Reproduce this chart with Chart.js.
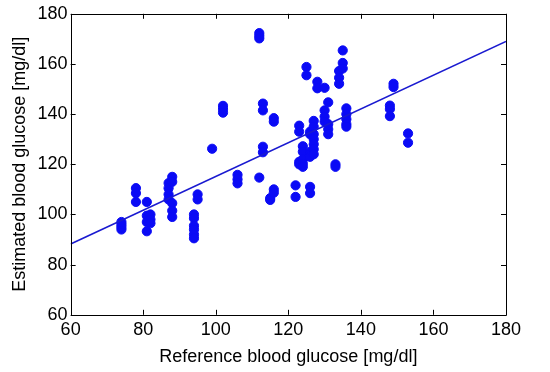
<!DOCTYPE html>
<html>
<head>
<meta charset="utf-8">
<script src="https://cdn.jsdelivr.net/npm/chart.js@4"></script>
<style>
  html, body { margin: 0; padding: 0; background: #fff; }
  #wrap { width: 550px; height: 372px; }
</style>
</head>
<body>
<div id="wrap"><canvas id="scatterChart" width="550" height="372"></canvas></div>
<script>
// reference glucose (x) and estimated glucose (y)
const refGlucose = [
  74, 74, 74, 74,
  78, 78, 78,
  81, 81, 81, 81,
  82, 82, 82,
  87, 87, 87, 87,
  88, 88, 88, 88, 88,
  94, 94, 94, 94, 94, 94,
  95, 95,
  99,
  102, 102, 102,
  106, 106, 106,
  112, 112, 112, 112,
  113, 113, 113, 113,
  115, 115,
  116, 116, 116, 116,
  122, 122,
  123, 123, 123, 123,
  124, 124, 124, 124, 124,
  125, 125,
  126, 126, 126, 126, 126, 126, 126,
  127, 127, 127, 127, 127, 127, 127,
  128, 128,
  130, 130, 130, 130,
  131, 131, 131, 131,
  133, 133,
  134, 134, 134,
  135, 135, 135,
  136, 136, 136, 136, 136,
  148, 148, 148,
  149, 149,
  153, 153
];
const estGlucose = [
  94, 95, 96, 97,
  110.5, 108.5, 105,
  105, 99.5, 97, 93.3,
  100, 98, 96.5,
  112.5, 110.5, 108, 106,
  115, 113, 104.5, 101.5, 99,
  100, 98.5, 95.5, 94, 92, 90.5,
  108, 106,
  126.2,
  143.3, 142, 140.6,
  115.8, 114, 112.4,
  172.3, 171.2, 170.2, 114.7,
  144.2, 141.5, 127, 124.8,
  106.5, 105.8,
  138.4, 137, 110, 108.7,
  111.6, 107,
  135.4, 133, 121, 120,
  127.2, 125, 122, 120.3, 119,
  158.8, 155.5,
  133, 132, 125, 124, 123, 111, 108.5,
  137.3, 135, 132, 130, 128, 126, 124,
  152.9, 150.3,
  150.5, 141.5, 139, 137,
  144.7, 136, 134, 132,
  120, 119,
  157.2, 154.5, 152.1,
  165.4, 160.4, 158.2,
  142.3, 140, 138, 136, 135,
  143.4, 142, 139.2,
  152.1, 150.8,
  132.3, 128.6
];
// regression line end points
const fitX = [60, 180];
const fitY = [88.2, 169];

const xTicks = [60, 80, 100, 120, 140, 160, 180];
const yTicks = [60, 80, 100, 120, 140, 160, 180];

const pts = refGlucose.map((x, i) => ({ x: x, y: estGlucose[i] }));
const fit = fitX.map((x, i) => ({ x: x, y: fitY[i] }));

// MATLAB-like box with inward ticks on all four sides
const boxTicks = {
  id: 'boxTicks',
  afterDraw(chart) {
    const { ctx, chartArea: a, scales } = chart;
    const len = 5;
    ctx.save();
    ctx.strokeStyle = '#000';
    ctx.lineWidth = 1;
    ctx.beginPath();
    ctx.rect(Math.round(a.left) + 0.5, Math.round(a.top) + 0.5,
             Math.round(a.right - a.left), Math.round(a.bottom - a.top));
    xTicks.forEach(v => {
      const px = Math.round(scales.x.getPixelForValue(v)) + 0.5;
      ctx.moveTo(px, a.bottom); ctx.lineTo(px, a.bottom - len);
      ctx.moveTo(px, a.top); ctx.lineTo(px, a.top + len);
    });
    yTicks.forEach(v => {
      const py = Math.round(scales.y.getPixelForValue(v)) + 0.5;
      ctx.moveTo(a.left, py); ctx.lineTo(a.left + len, py);
      ctx.moveTo(a.right, py); ctx.lineTo(a.right - len, py);
    });
    ctx.stroke();
    ctx.restore();
  }
};

const ctx = document.getElementById('scatterChart').getContext('2d');
new Chart(ctx, {
  type: 'scatter',
  data: {
    datasets: [
      {
        label: 'measurements',
        data: pts,
        backgroundColor: '#0a0af5',
        borderColor: '#0a0af5',
        pointRadius: 4.6,
        pointHoverRadius: 4.6,
        order: 2
      },
      {
        type: 'line',
        label: 'fit',
        data: fit,
        borderColor: '#1a1ad0',
        borderWidth: 1.6,
        pointRadius: 0,
        fill: false,
        order: 1
      }
    ]
  },
  options: {
    responsive: false,
    animation: false,
    layout: { padding: { top: 3, right: 44, left: 9, bottom: 4 } },
    plugins: {
      legend: { display: false },
      tooltip: { enabled: false }
    },
    scales: {
      x: {
        type: 'linear',
        min: 60, max: 180,
        afterBuildTicks: s => { s.ticks = xTicks.map(v => ({ value: v })); },
        grid: { display: false, drawTicks: false },
        border: { display: false },
        ticks: { color: '#000', padding: 4, maxRotation: 0,
                 font: { family: 'Liberation Sans', size: 18 } },
        title: { display: true, text: 'Reference blood glucose [mg/dl]', color: '#000',
                 padding: { top: 2, bottom: 0 },
                 font: { family: 'Liberation Sans', size: 18 } }
      },
      y: {
        type: 'linear',
        min: 60, max: 180,
        afterBuildTicks: s => { s.ticks = yTicks.map(v => ({ value: v })); },
        grid: { display: false, drawTicks: false },
        border: { display: false },
        ticks: { color: '#000', padding: 3,
                 font: { family: 'Liberation Sans', size: 18 } },
        title: { display: true, text: 'Estimated blood glucose [mg/dl]', color: '#000',
                 padding: { top: 0, bottom: 4 },
                 font: { family: 'Liberation Sans', size: 18 } }
      }
    }
  },
  plugins: [boxTicks]
});
</script>
</body>
</html>
